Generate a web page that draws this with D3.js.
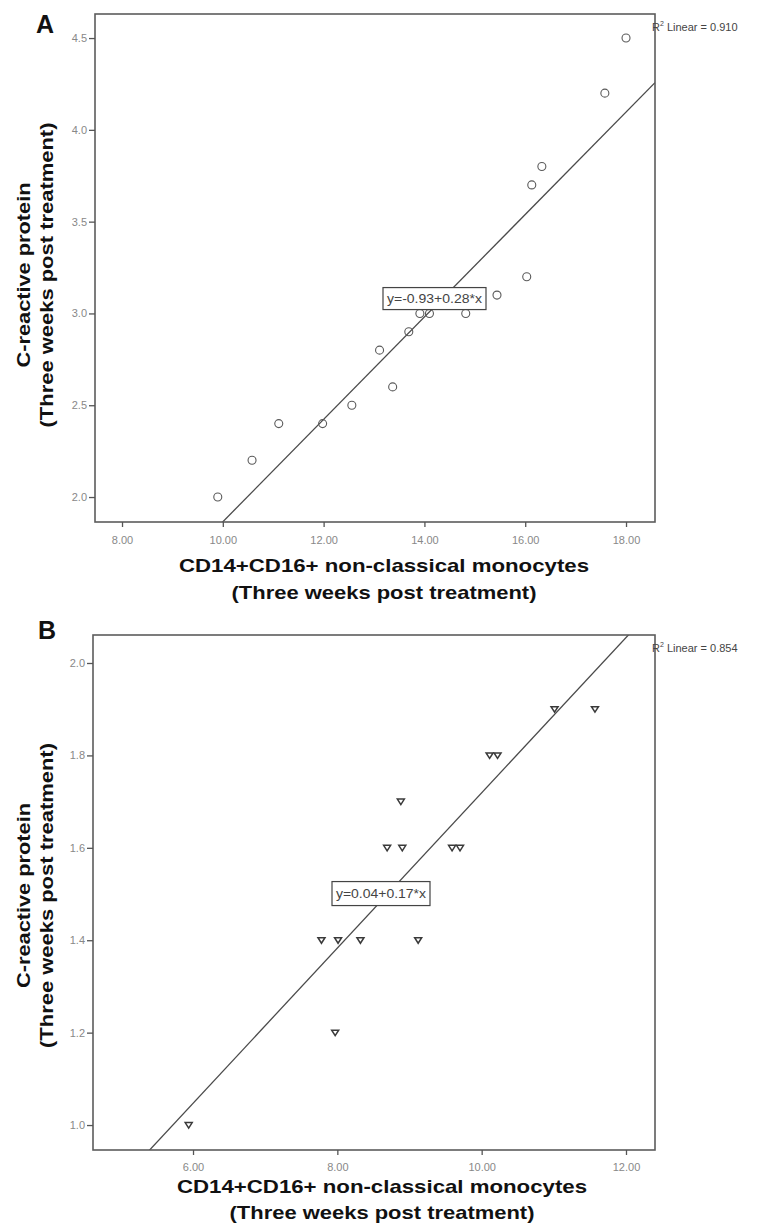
<!DOCTYPE html>
<html><head><meta charset="utf-8">
<script src="https://cdn.jsdelivr.net/npm/d3@7"></script>
<style>body{margin:0;background:#fff}svg{display:block}</style>
</head><body>
<svg id="c" width="758" height="1227"></svg>
<script>
// ---- Panel A data ----
const aX = [9.90,10.58,11.11,11.98,12.56,13.11,13.37,13.69,13.91,14.10,14.82,15.44,16.03,16.13,16.33,17.58,18.00];
const aY = [2.00,2.20,2.40,2.40,2.50,2.80,2.60,2.90,3.00,3.00,3.00,3.10,3.20,3.70,3.80,4.20,4.50];
const aXTicks = [8,10,12,14,16,18];
const aYTicks = [2.0,2.5,3.0,3.5,4.0,4.5];
const aFit = {intercept:-0.925, slope:0.279};
const aEq = "y=-0.93+0.28*x";
const aR2 = "0.910";

// ---- Panel B data ----
const bX = [5.94,7.78,8.01,8.32,7.97,9.12,8.88,8.69,8.90,9.59,9.70,10.11,10.22,11.01,11.57];
const bY = [1.00,1.40,1.40,1.40,1.20,1.40,1.70,1.60,1.60,1.60,1.60,1.80,1.80,1.90,1.90];
const bXTicks = [6,8,10,12];
const bYTicks = [1.0,1.2,1.4,1.6,1.8,2.0];
const bFit = {intercept:0.039, slope:0.168};
const bEq = "y=0.04+0.17*x";
const bR2 = "0.854";

const xTitle = ["CD14+CD16+ non-classical monocytes","(Three weeks post treatment)"];
const yTitle = ["C-reactive protein","(Three weeks post treatment)"];

const svg = d3.select("#c");
const FONT = "'Liberation Sans', Arial, sans-serif";

function panel(o){
  const g = svg.append("g");
  const x = d3.scaleLinear().domain(o.xd).range([o.l,o.r]);
  const y = d3.scaleLinear().domain(o.yd).range([o.b,o.t]);
  const cid = "clip"+o.id;
  svg.append("defs").append("clipPath").attr("id",cid)
    .append("rect").attr("x",o.l).attr("y",o.t).attr("width",o.r-o.l).attr("height",o.b-o.t);

  // regression line
  g.append("line").attr("clip-path",`url(#${cid})`)
    .attr("x1",x(o.xd[0])).attr("y1",y(o.fit.intercept+o.fit.slope*o.xd[0]))
    .attr("x2",x(o.xd[1])).attr("y2",y(o.fit.intercept+o.fit.slope*o.xd[1]))
    .attr("stroke","#4a4a4a").attr("stroke-width",1.3);

  // points
  const pts = g.append("g");
  o.xs.forEach((v,i)=>{
    const cx=x(v), cy=y(o.ys[i]);
    if(o.shape==="circle"){
      pts.append("circle").attr("cx",cx).attr("cy",cy).attr("r",4)
        .attr("fill","none").attr("stroke","#5a5a5a").attr("stroke-width",1.1);
    } else {
      pts.append("path").attr("transform",`translate(${cx},${cy})`)
        .attr("d","M-3.5,-2.5L3.5,-2.5L0,3Z")
        .attr("fill","none").attr("stroke","#3a3a3a").attr("stroke-width",1.5);
    }
  });

  // frame
  g.append("rect").attr("x",o.l).attr("y",o.t).attr("width",o.r-o.l).attr("height",o.b-o.t)
    .attr("fill","none").attr("stroke","#5c5c5c").attr("stroke-width",1.6);

  // axes
  const xa = g.append("g").attr("transform",`translate(0,${o.b})`)
    .call(d3.axisBottom(x).tickValues(o.xt).tickFormat(d3.format(".2f")).tickSize(5).tickPadding(o.xpad));
  const ya = g.append("g").attr("transform",`translate(${o.l},0)`)
    .call(d3.axisLeft(y).tickValues(o.yt).tickFormat(d3.format(".1f")).tickSize(6).tickPadding(2));
  [xa,ya].forEach(a=>{
    a.select(".domain").remove();
    a.selectAll(".tick line").attr("stroke","#555").attr("stroke-width",1.3);
    a.selectAll(".tick text").attr("fill","#888").attr("font-size",11).attr("font-family",FONT);
  });

  // equation label box
  const ex = x(o.eqPos[0]), ey = y(o.eqPos[1]);
  const eg = g.append("g");
  eg.append("rect").attr("x",ex-o.boxW/2).attr("y",ey-o.boxH/2).attr("width",o.boxW).attr("height",o.boxH)
    .attr("fill","#fff").attr("stroke","#444").attr("stroke-width",1.2);
  eg.append("text").attr("x",ex-o.boxW/2+4).attr("y",ey+4.5)
    .attr("font-size",12).attr("font-family",FONT).attr("fill","#444")
    .attr("textLength",o.boxW-8).attr("lengthAdjust","spacingAndGlyphs").text(o.eq);

  // R² label
  const rt = g.append("text").attr("x",o.r-3).attr("y",o.t+o.r2dy).attr("font-size",11)
    .attr("font-family",FONT).attr("fill","#444");
  rt.append("tspan").text("R");
  rt.append("tspan").attr("font-size",7).attr("dy",-5).text("2");
  rt.append("tspan").attr("dy",5).text(" Linear = "+o.r2);

  // panel letter
  g.append("text").attr("x",o.letterX).attr("y",o.letterY).attr("font-size",25).attr("font-weight","bold")
    .attr("font-family",FONT).attr("fill","#111").text(o.letter);

  // x title
  const xtLens = [410,305];
  const xt = g.append("text").attr("text-anchor","middle").attr("font-size",19).attr("font-weight","bold")
    .attr("font-family",FONT).attr("fill","#111");
  xTitle.forEach((s,i)=>xt.append("tspan").attr("x",o.xtx).attr("y",o.xty+i*o.xtGap)
    .attr("textLength",xtLens[i]).attr("lengthAdjust","spacingAndGlyphs").text(s));

  // y title
  const ytLens = [185,305];
  const yc = (o.t+o.b)/2 + o.ytShift;
  const yt = g.append("text").attr("text-anchor","middle").attr("font-size",19).attr("font-weight","bold")
    .attr("font-family",FONT).attr("fill","#111").attr("transform",`translate(0,${yc}) rotate(-90)`);
  yTitle.forEach((s,i)=>yt.append("tspan").attr("x",0).attr("y",o.ytx+i*23)
    .attr("textLength",ytLens[i]).attr("lengthAdjust","spacingAndGlyphs").text(s));
}

panel({id:"A",l:95,r:655,t:14,b:522,xd:[7.464,18.575],yd:[1.864,4.631],xs:aX,ys:aY,shape:"circle",
  xt:aXTicks,yt:aYTicks,fit:aFit,eq:aEq,eqPos:[14.20,3.081],boxW:103,boxH:22,r2:aR2,r2dy:17,
  letter:"A",letterX:36,letterY:33,xtx:384,xty:572,xtGap:27,ytx:30,ytShift:7,xpad:9});
panel({id:"B",l:93,r:655,t:635,b:1150,xd:[4.614,12.402],yd:[0.946,2.0606],xs:bX,ys:bY,shape:"tri",
  xt:bXTicks,yt:bYTicks,fit:bFit,eq:bEq,eqPos:[8.605,1.501],boxW:98,boxH:24,r2:bR2,r2dy:17,
  letter:"B",letterX:38,letterY:639,xtx:382,xty:1193,xtGap:26,ytx:30,ytShift:3,xpad:8});
</script>
</body></html>
